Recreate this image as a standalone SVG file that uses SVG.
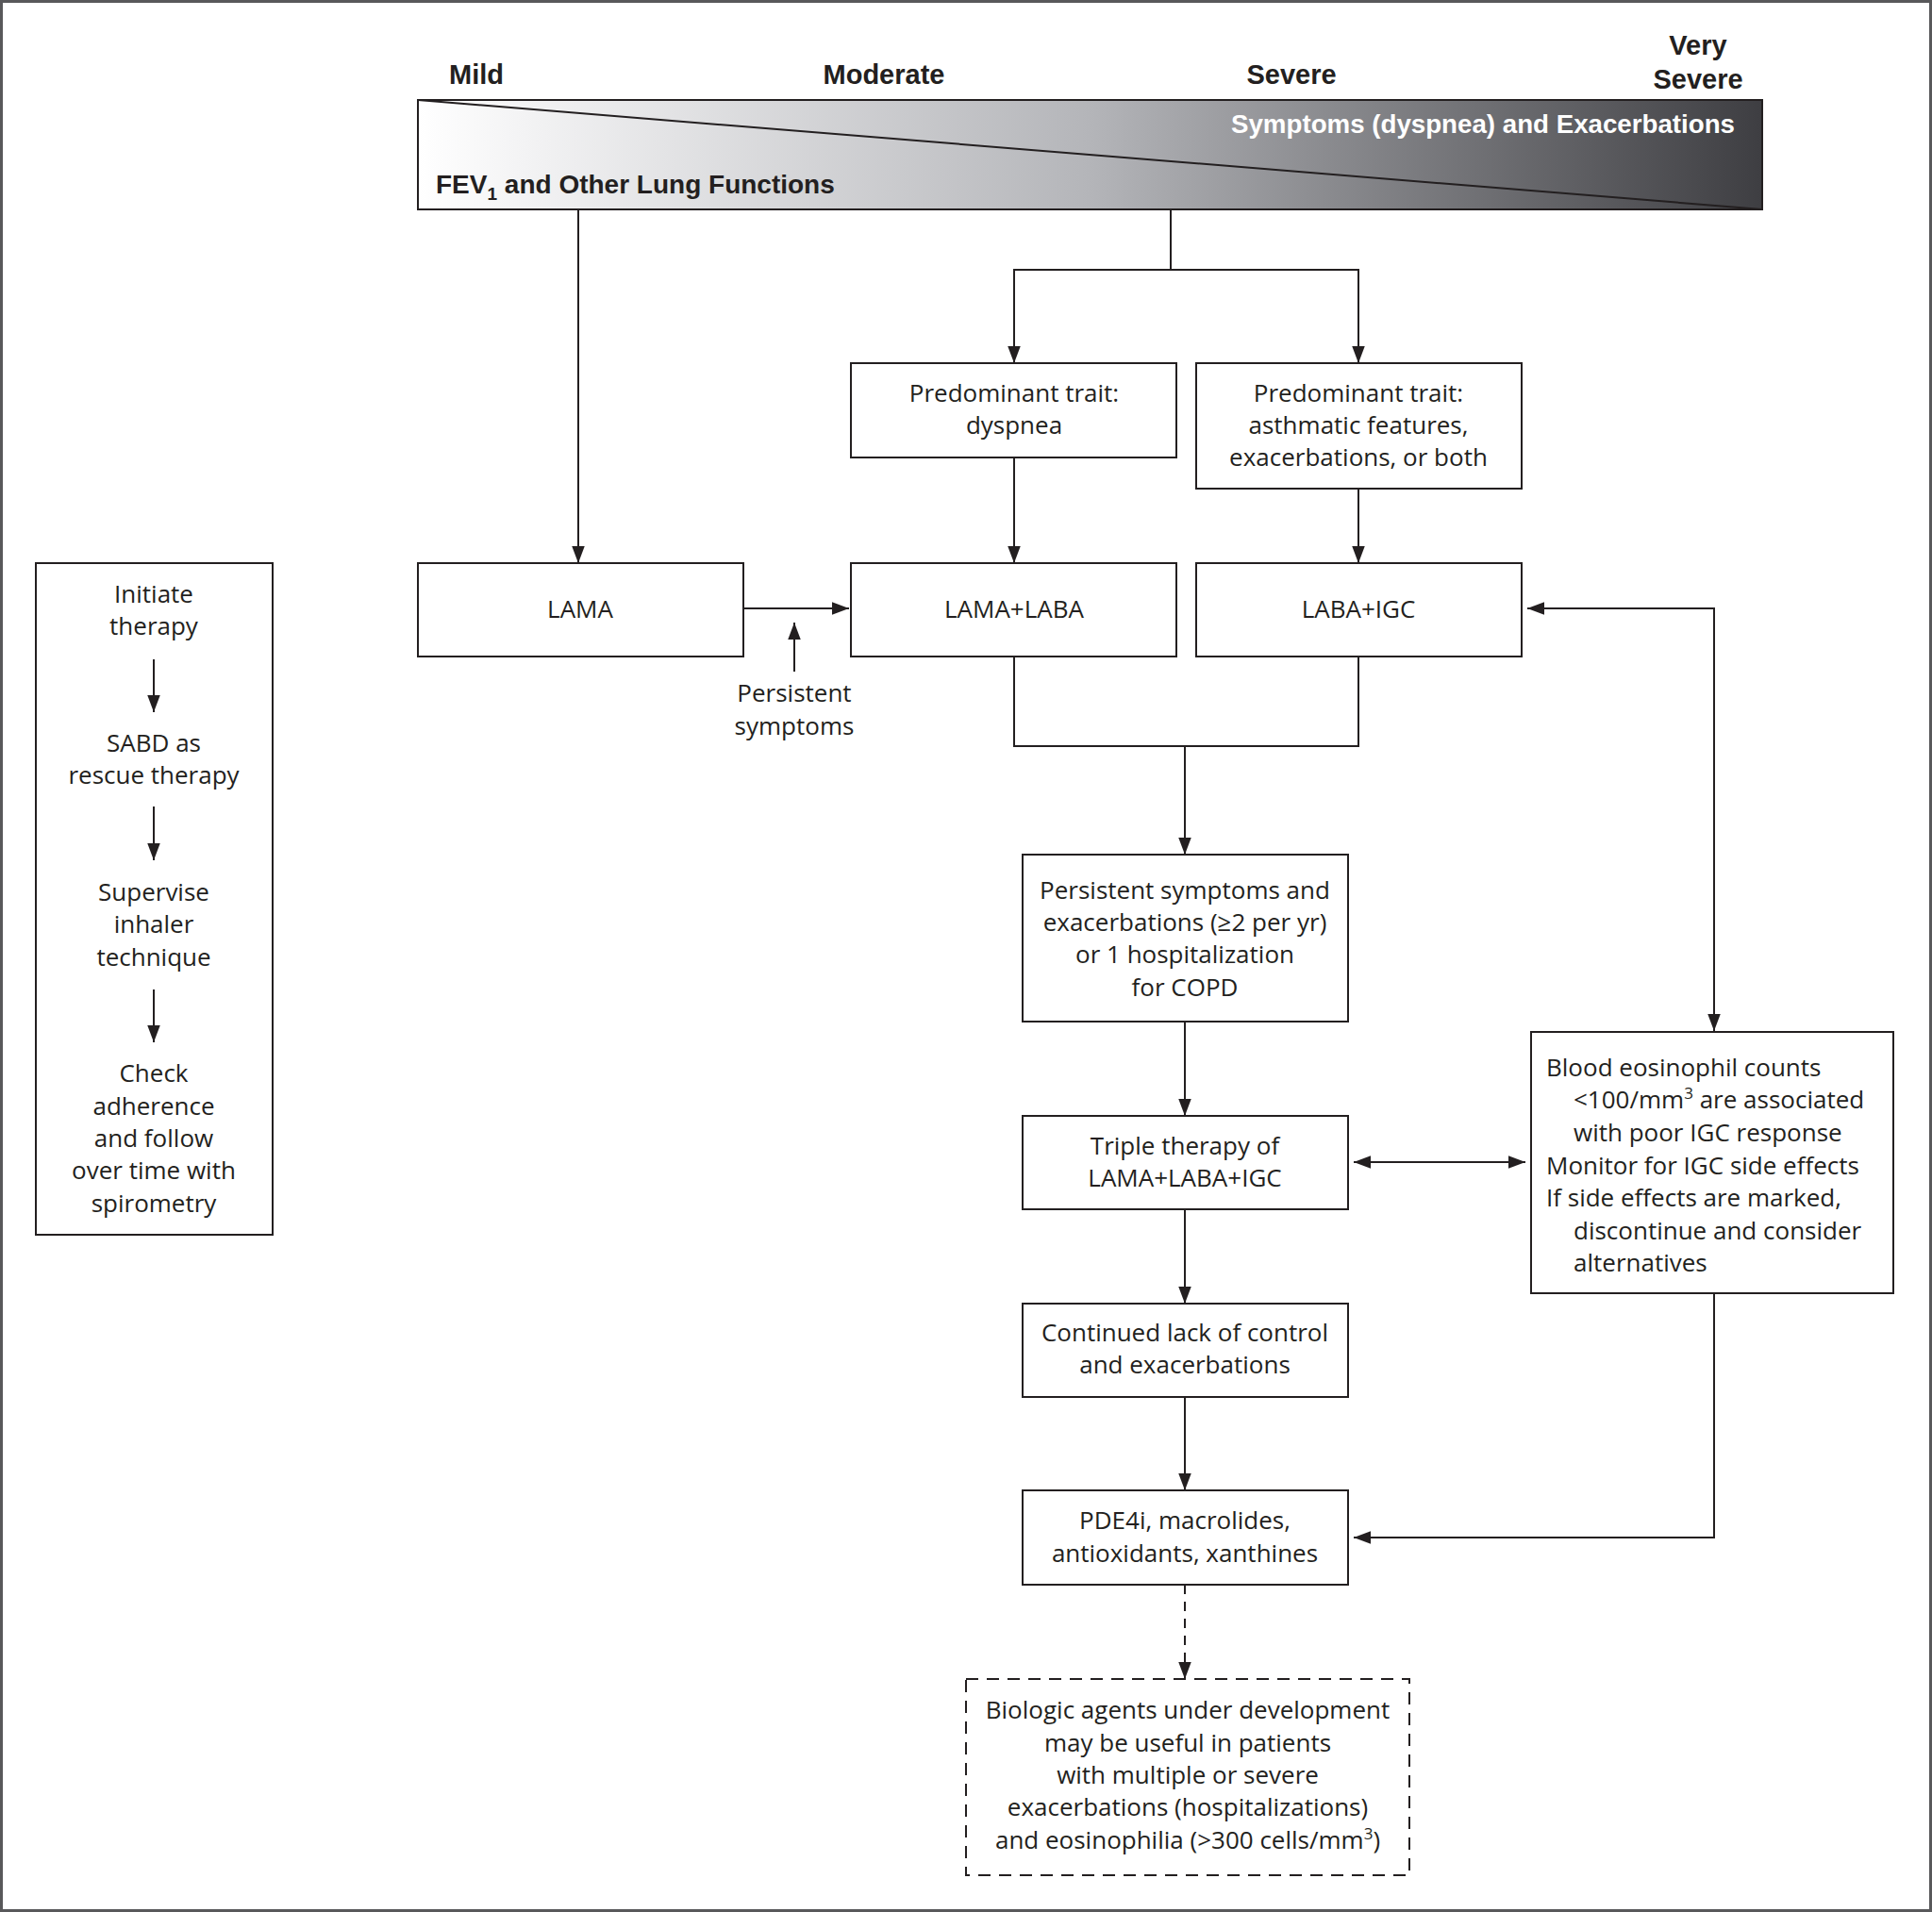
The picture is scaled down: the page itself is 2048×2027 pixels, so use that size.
<svg xmlns="http://www.w3.org/2000/svg" width="2048" height="2027" viewBox="0 0 2048 2027">
<defs>
<linearGradient id="barGrad" x1="0" y1="0" x2="1" y2="0">
<stop offset="0" stop-color="#ffffff"/>
<stop offset="0.08" stop-color="#f3f3f4"/>
<stop offset="0.5" stop-color="#b4b5b9"/>
<stop offset="1" stop-color="#3e3e42"/>
</linearGradient>
<marker id="ah" markerUnits="userSpaceOnUse" markerWidth="18" markerHeight="14" refX="16" refY="6" orient="auto-start-reverse" viewBox="0 0 16 12">
<path d="M0,0 L16,6 L0,12 z" fill="#231f20"/>
</marker>
<style>
.box{fill:#fff;stroke:#231f20;stroke-width:2}
.dbox{fill:#fff;stroke:#231f20;stroke-width:2;stroke-dasharray:13 9}
.c{fill:none;stroke:#231f20;stroke-width:2}
.t{font-family:"Open Sans","Noto Sans",sans-serif;font-size:26px;fill:#231f20;text-anchor:middle}
.tl{font-family:"Open Sans","Noto Sans",sans-serif;font-size:26px;fill:#231f20;text-anchor:start}
.h{font-family:"Liberation Sans",Arial,sans-serif;font-weight:bold;font-size:29px;fill:#231f20;text-anchor:middle}
</style>
</defs>
<rect x="1.5" y="1.5" width="2045" height="2024" fill="#fff" stroke="#58585a" stroke-width="3"/>

<g id="header">
<text class="h" x="505" y="89">Mild</text>
<text class="h" x="937" y="89">Moderate</text>
<text class="h" x="1369" y="89">Severe</text>
<text class="h" x="1800" y="58">Very</text>
<text class="h" x="1800" y="94">Severe</text>
<rect x="443" y="106" width="1425" height="116" fill="url(#barGrad)" stroke="#231f20" stroke-width="2"/>
<line x1="443" y1="106" x2="1868" y2="222" stroke="#231f20" stroke-width="2"/>
<text x="1839" y="141" font-family="Liberation Sans,Arial,sans-serif" font-weight="bold" font-size="28" fill="#fff" text-anchor="end" textLength="534" lengthAdjust="spacingAndGlyphs">Symptoms (dyspnea) and Exacerbations</text>
<text x="462" y="205" font-family="Liberation Sans,Arial,sans-serif" font-weight="bold" font-size="28" fill="#231f20">FEV<tspan font-size="19" dy="7">1</tspan><tspan dy="-7"> and Other Lung Functions</tspan></text>
</g>

<g id="connectors">
<line class="c" x1="613" y1="222" x2="613" y2="597" marker-end="url(#ah)"/>
<path class="c" d="M1241,222 V286"/>
<path class="c" d="M1075,385 V286 H1440 V385" marker-start="url(#ah)" marker-end="url(#ah)"/>
<line class="c" x1="1075" y1="485" x2="1075" y2="597" marker-end="url(#ah)"/>
<line class="c" x1="1440" y1="518" x2="1440" y2="597" marker-end="url(#ah)"/>
<line class="c" x1="788" y1="645" x2="900" y2="645" marker-end="url(#ah)"/>
<line class="c" x1="842" y1="712" x2="842" y2="660" marker-end="url(#ah)"/>
<path class="c" d="M1075,696 V791 H1440 V696"/>
<line class="c" x1="1256" y1="791" x2="1256" y2="906" marker-end="url(#ah)"/>
<line class="c" x1="1256" y1="1083" x2="1256" y2="1183" marker-end="url(#ah)"/>
<line class="c" x1="1256" y1="1282" x2="1256" y2="1382" marker-end="url(#ah)"/>
<line class="c" x1="1256" y1="1481" x2="1256" y2="1580" marker-end="url(#ah)"/>
<line class="c" x1="1256" y1="1680" x2="1256" y2="1780" stroke-dasharray="10 8" marker-end="url(#ah)"/>
<line class="c" x1="1435" y1="1232" x2="1617" y2="1232" marker-start="url(#ah)" marker-end="url(#ah)"/>
<path class="c" d="M1619,645 H1817 V1093" marker-start="url(#ah)" marker-end="url(#ah)"/>
<path class="c" d="M1817,1371 V1630 H1435" marker-end="url(#ah)"/>
</g>

<g id="steps">
<rect class="box" x="38" y="597" width="251" height="712"/>
<text class="t" x="163" y="639">Initiate</text>
<text class="t" x="163" y="673">therapy</text>
<line class="c" x1="163" y1="699" x2="163" y2="755" marker-end="url(#ah)"/>
<text class="t" x="163" y="797">SABD as</text>
<text class="t" x="163" y="831">rescue therapy</text>
<line class="c" x1="163" y1="855" x2="163" y2="912" marker-end="url(#ah)"/>
<text class="t" x="163" y="955">Supervise</text>
<text class="t" x="163" y="989">inhaler</text>
<text class="t" x="163" y="1024">technique</text>
<line class="c" x1="163" y1="1049" x2="163" y2="1105" marker-end="url(#ah)"/>
<text class="t" x="163" y="1147">Check</text>
<text class="t" x="163" y="1182">adherence</text>
<text class="t" x="163" y="1216">and follow</text>
<text class="t" x="163" y="1250">over time with</text>
<text class="t" x="163" y="1285">spirometry</text>
</g>

<g id="trait-dyspnea">
<rect class="box" x="902" y="385" width="345" height="100"/>
<text class="t" x="1075" y="426">Predominant trait:</text>
<text class="t" x="1075" y="460">dyspnea</text>
</g>

<g id="trait-asthmatic">
<rect class="box" x="1268" y="385" width="345" height="133"/>
<text class="t" x="1440" y="426">Predominant trait:</text>
<text class="t" x="1440" y="460">asthmatic features,</text>
<text class="t" x="1440" y="494">exacerbations, or both</text>
</g>

<g id="lama">
<rect class="box" x="443" y="597" width="345" height="99"/>
<text class="t" x="615" y="655">LAMA</text>
</g>

<g id="lama-laba">
<rect class="box" x="902" y="597" width="345" height="99"/>
<text class="t" x="1075" y="655">LAMA+LABA</text>
</g>

<g id="laba-igc">
<rect class="box" x="1268" y="597" width="345" height="99"/>
<text class="t" x="1440" y="655">LABA+IGC</text>
</g>

<g id="persistent-label">
<text class="t" x="842" y="744">Persistent</text>
<text class="t" x="842" y="779">symptoms</text>
</g>

<g id="persistent-exac">
<rect class="box" x="1084" y="906" width="345" height="177"/>
<text class="t" x="1256" y="953">Persistent symptoms and</text>
<text class="t" x="1256" y="987">exacerbations (≥2 per yr)</text>
<text class="t" x="1256" y="1021">or 1 hospitalization</text>
<text class="t" x="1256" y="1056">for COPD</text>
</g>

<g id="triple">
<rect class="box" x="1084" y="1183" width="345" height="99"/>
<text class="t" x="1256" y="1224">Triple therapy of</text>
<text class="t" x="1256" y="1258">LAMA+LABA+IGC</text>
</g>

<g id="continued">
<rect class="box" x="1084" y="1382" width="345" height="99"/>
<text class="t" x="1256" y="1422">Continued lack of control</text>
<text class="t" x="1256" y="1456">and exacerbations</text>
</g>

<g id="pde4i">
<rect class="box" x="1084" y="1580" width="345" height="100"/>
<text class="t" x="1256" y="1621">PDE4i, macrolides,</text>
<text class="t" x="1256" y="1656">antioxidants, xanthines</text>
</g>

<g id="biologic">
<rect class="dbox" x="1024" y="1780" width="470" height="208"/>
<text class="t" x="1259" y="1822">Biologic agents under development</text>
<text class="t" x="1259" y="1857">may be useful in patients</text>
<text class="t" x="1259" y="1891">with multiple or severe</text>
<text class="t" x="1259" y="1925">exacerbations (hospitalizations)</text>
<text class="t" x="1259" y="1960">and eosinophilia (&gt;300 cells/mm<tspan font-size="17" dy="-10">3</tspan><tspan dy="10">)</tspan></text>
</g>

<g id="eosinophil">
<rect class="box" x="1623" y="1094" width="384" height="277"/>
<text class="tl" x="1639" y="1141">Blood eosinophil counts</text>
<text class="tl" x="1668" y="1175">&lt;100/mm<tspan font-size="17" dy="-10">3</tspan><tspan dy="10"> are associated</tspan></text>
<text class="tl" x="1668" y="1210">with poor IGC response</text>
<text class="tl" x="1639" y="1245">Monitor for IGC side effects</text>
<text class="tl" x="1639" y="1279">If side effects are marked,</text>
<text class="tl" x="1668" y="1314">discontinue and consider</text>
<text class="tl" x="1668" y="1348">alternatives</text>
</g>
</svg>
